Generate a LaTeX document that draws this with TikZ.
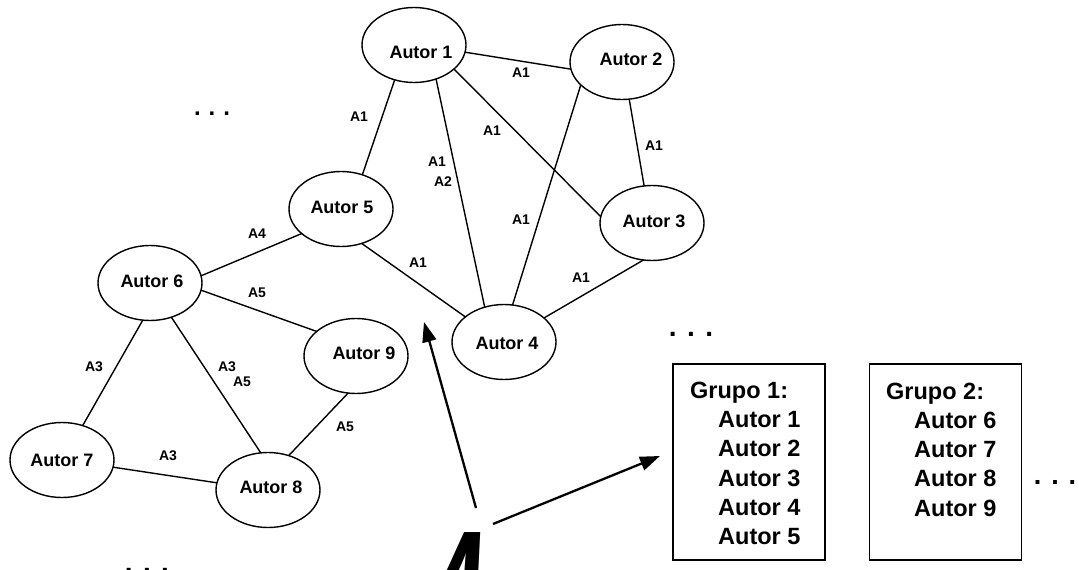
\documentclass[tikz,border=0pt]{standalone}
\usepackage{fontspec}
\setmainfont{Liberation Sans}
\usetikzlibrary{arrows.meta,shapes.geometric}
\begin{document}
\begin{tikzpicture}[x=1pt,y=-1pt,
  autor/.style={ellipse, draw, line width=1.4pt, minimum width=104pt, minimum height=75pt, inner sep=0pt, outer sep=0pt},
  atxt/.style={inner sep=0pt, font=\fontsize{18}{20}\selectfont\bfseries},
  lbl/.style={inner sep=0pt, font=\fontsize{14}{16}\selectfont\bfseries},
  edge/.style={line width=1.4pt},
  grp/.style={draw, line width=1.4pt, inner sep=0pt, minimum width=152pt, minimum height=196pt},
  gtxt/.style={anchor=base west, inner sep=0pt, font=\fontsize{23.5}{28}\selectfont\bfseries},
  dots/.style={anchor=base, inner sep=0pt, font=\fontsize{#1}{30}\selectfont\bfseries},
  bigarrow/.style={line width=2.3pt, -{Triangle[length=20pt,width=14pt]}}
]
\useasboundingbox (0,0) rectangle (1079,570);
\clip (0,0) rectangle (1079,570);

% authors
\node[autor] (a1) at (414,45) {};
\node[autor] (a2) at (622,62) {};
\node[autor] (a3) at (652,223) {};
\node[autor] (a4) at (504,342) {};
\node[autor] (a5) at (341,209) {};
\node[autor] (a6) at (150,283) {};
\node[autor] (a7) at (62,460) {};
\node[autor] (a8) at (268,490) {};
\node[autor] (a9) at (356,356) {};

\node[atxt] (t1) at (421,52) {Autor 1};
\node[atxt] (t2) at (631,59) {Autor 2};
\node[atxt] (t3) at (654,221) {Autor 3};
\node[atxt] (t4) at (507,343) {Autor 4};
\node[atxt] (t5) at (342,207) {Autor 5};
\node[atxt] (t6) at (152,281) {Autor 6};
\node[atxt] (t7) at (62,460) {Autor 7};
\node[atxt] (t8) at (271,487) {Autor 8};
\node[atxt] (t9) at (364,353) {Autor 9};

% edges
\draw[edge] (a1.-8.6) -- (a2.188);
\draw[edge] (a1.241) -- (a5.58);
\draw[edge] (a1.-57.7) -- (a4.119.6);
\draw[edge] (a1.-31.6) -- (a3.173);
\draw[edge] (a2.-79) -- (a3.102.5);
\draw[edge] (a2.209.6) -- (a4.77.8);
\draw[edge] (a5.-59.3) -- (a4.147);
\draw[edge] (a3.257) -- (a4.31.6);
\draw[edge] (a5.212.6) -- (a6.8.7);
\draw[edge] (a6.-8.7) -- (a9.148.6);
\draw[edge] (a6.259.3) -- (a7.59.7);
\draw[edge] (a6.-58.6) -- (a8.101.9);
\draw[edge] (a9.258.4) -- (a8.59.3);
\draw[edge] (a7.-8.9) -- (a8.172);

% edge labels
\node[lbl] (l12) at (521,73) {A1};
\node[lbl] (l15) at (359,117) {A1};
\node[lbl] (l14a) at (437,162) {A1};
\node[lbl] (l14b) at (443,182) {A2};
\node[lbl] (l13) at (492,131) {A1};
\node[lbl] (l23) at (654,146) {A1};
\node[lbl] (l24) at (521,220) {A1};
\node[lbl] (l54) at (418,263) {A1};
\node[lbl] (l34) at (581,278) {A1};
\node[lbl] (l56) at (257,234) {A4};
\node[lbl] (l69) at (257,293) {A5};
\node[lbl] (l67) at (94,367) {A3};
\node[lbl] (l68a) at (227,367) {A3};
\node[lbl] (l68b) at (242,382) {A5};
\node[lbl] (l98) at (345,427) {A5};
\node[lbl] (l78) at (168,456) {A3};

% groups
\node[grp] (g1) at (749,462) {};
\node[grp] (g2) at (945.5,462) {};
\node[gtxt] (g1h) at (690,398.4) {Grupo 1:};
\foreach \i/\y in {1/427.6,2/456.9,3/486.1,4/515.4,5/544.6}
  \node[gtxt] (g1a\i) at (718,\y) {Autor \i};
\node[gtxt] (g2h) at (886,399.4) {Grupo 2:};
\foreach \i/\n/\y in {1/6/428.4,2/7/457.7,3/8/486.9,4/9/516.2}
  \node[gtxt] (g2a\i) at (914,\y) {Autor \n};

% ellipses (dots)
\node[dots=24] (d1) at (212,115) {.\,\,.\,\,.};
\node[dots=28] (d2) at (691,336) {. . .};
\node[dots=27] (d3) at (1055,484) {. . .};
\node[dots=28] (d4) at (147,572.5) {. . .};

% big 4 and arrows
\node[anchor=base west, inner sep=0pt, xslant=0.05, xscale=0.62, font=\fontsize{170}{170}\selectfont\bfseries] (four) at (426,649.7) {4};
\coordinate (s1) at (476,508);
\coordinate (e1) at (424,322);
\coordinate (s2) at (493,524);
\coordinate (e2) at (660,456);
\draw[bigarrow] (s1) -- (e1);
\draw[bigarrow] (s2) -- (e2);
\end{tikzpicture}
\end{document}
